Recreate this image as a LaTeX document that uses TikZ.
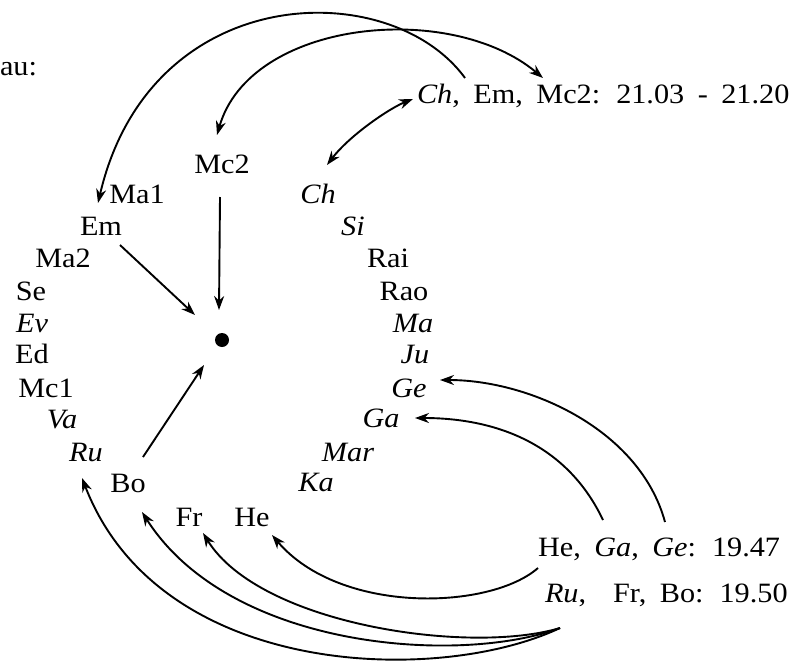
\documentclass[tikz,border=0pt]{standalone}
\usepackage{fontspec}
\setmainfont{Liberation Serif}[FakeStretch=1.08]
\usetikzlibrary{arrows.meta}
\newcommand\mylabfont{\fontsize{28}{32}\selectfont\spaceskip=13.5pt plus 0pt minus 0pt\relax}
\begin{document}
\begin{tikzpicture}[x=1pt,y=-1pt,
  every node/.style={inner sep=0pt, outer sep=0pt, anchor=base, font=\fontsize{28}{32}\selectfont},
  it/.style={font=\fontsize{28}{32}\selectfont\itshape},
  lab/.style={anchor=base west, font=\mylabfont},
  arr/.style={line width=1.9pt, -{Stealth[length=14pt,width=10pt,inset=4.5pt]}},
  darr/.style={line width=1.9pt, {Stealth[length=14pt,width=10pt,inset=4.5pt]}-{Stealth[length=14pt,width=10pt,inset=4.5pt]}}]
\useasboundingbox (0,0) rectangle (810,661);

\node (au) [anchor=base west] at (0,75) {au:};

% left column
\node (mc2) at (222,173) {Mc2};
\node (ma1) at (137,203) {Ma1};
\node (em)  at (101,235) {Em};
\node (ma2) at (63,267) {Ma2};
\node (se)  at (31,300) {Se};
\node[it] (ev) at (32,332) {Ev};
\node (ed)  at (32,363) {Ed};
\node (mc1) at (46,397) {Mc1};
\node[it] (va) at (62,428) {Va};
\node[it] (ru) at (86,461) {Ru};
\node (bo)  at (128,492) {Bo};
\node (fr)  at (189,526) {Fr};
\node (he)  at (252,526) {He};

% right column
\node[it] (ch)  at (318,203) {Ch};
\node[it] (si)  at (353,235) {Si};
\node (rai) at (388,267) {Rai};
\node (rao) at (404,300) {Rao};
\node[it] (ma)  at (413,332) {Ma};
\node[it] (ju)  at (415,363) {Ju};
\node[it] (ge)  at (409,397) {Ge};
\node[it] (ga)  at (381,427) {Ga};
\node[it] (mar) at (348,461) {Mar};
\node[it] (ka)  at (316,491) {Ka};

% centre dot
\node (dot) [circle, fill=black, minimum size=14pt, inner sep=0pt, anchor=center] at (222,340) {};

% labels
\node[lab] (lab1) at (417,103) {\textit{Ch}, Em, Mc2: 21.03 - 21.20};
\node[lab] (lab2) at (538,556) {He, \textit{Ga}, \textit{Ge}: 19.47};
\node[lab] (lab3) at (545,602) {\textit{Ru},\hspace{13.5pt} Fr, Bo: 19.50};

% top arcs
\draw[arr] ([shift={(48,-25)}]lab1.base west) .. controls (390,-25) and (150,-20) .. ([shift={(-3,-32)}]em.base);
\draw[darr] ([shift={(-5,-38)}]mc2.base) .. controls (250,20) and (450,0) .. ([shift={(126,-25)}]lab1.base west);
\draw[darr] ([shift={(-4,-4)}]lab1.base west) .. controls (390,108) and (350,135) .. ([shift={(9,-38)}]ch.base);

% arrows to the dot
\draw[arr] ([shift={(19,10)}]em.base) -- ([shift={(-27,-25)}]dot.center);
\draw[arr] ([shift={(-2,24)}]mc2.base) -- ([shift={(-3,-30)}]dot.center);
\draw[arr] ([shift={(15,-35)}]bo.base) -- ([shift={(-18,25)}]dot.center);

% lower right arcs
\draw[arr] ([shift={(127,-34)}]lab2.base west) .. controls (640,430) and (530,380) .. ([shift={(31,-17)}]ge.base);
\draw[arr] ([shift={(65,-36)}]lab2.base west) .. controls (565,440) and (490,418) .. ([shift={(34,-9)}]ga.base);
\draw[arr] ([shift={(0,12)}]lab2.base west) .. controls (490,610) and (340,615) .. ([shift={(20,9)}]he.base);

% bottom arcs
\draw[arr] ([shift={(15,26)}]lab3.base west) .. controls (470,655) and (260,625) .. ([shift={(14,7)}]fr.base);
\draw[arr] ([shift={(15,26)}]lab3.base west) .. controls (460,665) and (230,650) .. ([shift={(14,20)}]bo.base);
\draw[arr] ([shift={(15,26)}]lab3.base west) .. controls (440,685) and (160,680) .. ([shift={(-4,17)}]ru.base);
\end{tikzpicture}
\end{document}
